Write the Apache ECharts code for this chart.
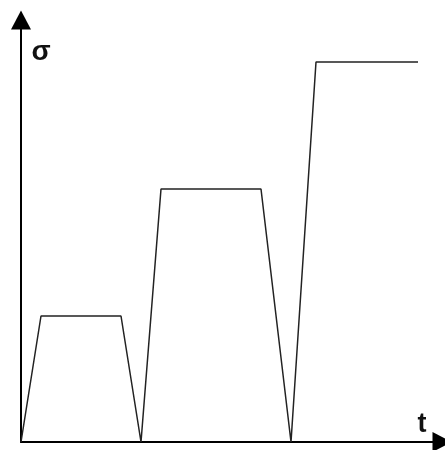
<!DOCTYPE html>
<html>
<head>
<meta charset="utf-8">
<script src="https://cdn.jsdelivr.net/npm/echarts@6/dist/echarts.min.js"></script>
<style>
  html, body { margin: 0; padding: 0; background: #fff; }
  #main { width: 445px; height: 450px; }
</style>
</head>
<body>
<div id="main"></div>
<script>
// time and stress points of the loading curve
var tValues = [0, 20, 100, 120, 140, 240, 270, 295, 397];
var sigmaValues = [0, 126, 126, 0, 253, 253, 0, 380, 380];
var tMax = 421;
var sigmaMax = 422;

var points = [];
for (var i = 0; i < tValues.length; i++) {
  points.push([tValues[i], sigmaValues[i]]);
}

var myChart = echarts.init(document.getElementById('main'));

var arrowLine = {
  show: true,
  symbol: ['none', 'triangle'],
  symbolSize: [20, 19],
  lineStyle: { color: '#000', width: 2 }
};

var option = {
  animation: false,
  backgroundColor: '#fff',
  grid: { left: 21, right: 3, top: 20, bottom: 8 },
  xAxis: {
    type: 'value',
    min: 0,
    max: tMax,
    axisLine: arrowLine,
    axisTick: { show: false },
    axisLabel: { show: false },
    splitLine: { show: false }
  },
  yAxis: {
    type: 'value',
    min: 0,
    max: sigmaMax,
    axisLine: arrowLine,
    axisTick: { show: false },
    axisLabel: { show: false },
    splitLine: { show: false }
  },
  graphic: [
    {
      type: 'text',
      x: 41, y: 52,
      style: {
        text: 'σ', font: 'bold 28px "Liberation Sans", Arial', fill: '#111',
        align: 'center', verticalAlign: 'middle'
      }
    },
    {
      type: 'text',
      x: 422, y: 425,
      style: {
        text: 't', font: 'bold 27px "Liberation Sans", Arial', fill: '#111',
        align: 'center', verticalAlign: 'middle'
      }
    }
  ],
  series: [
    {
      type: 'line',
      data: points,
      symbol: 'none',
      lineStyle: { color: '#222', width: 1.5 }
    }
  ]
};

myChart.setOption(option);
</script>
</body>
</html>
